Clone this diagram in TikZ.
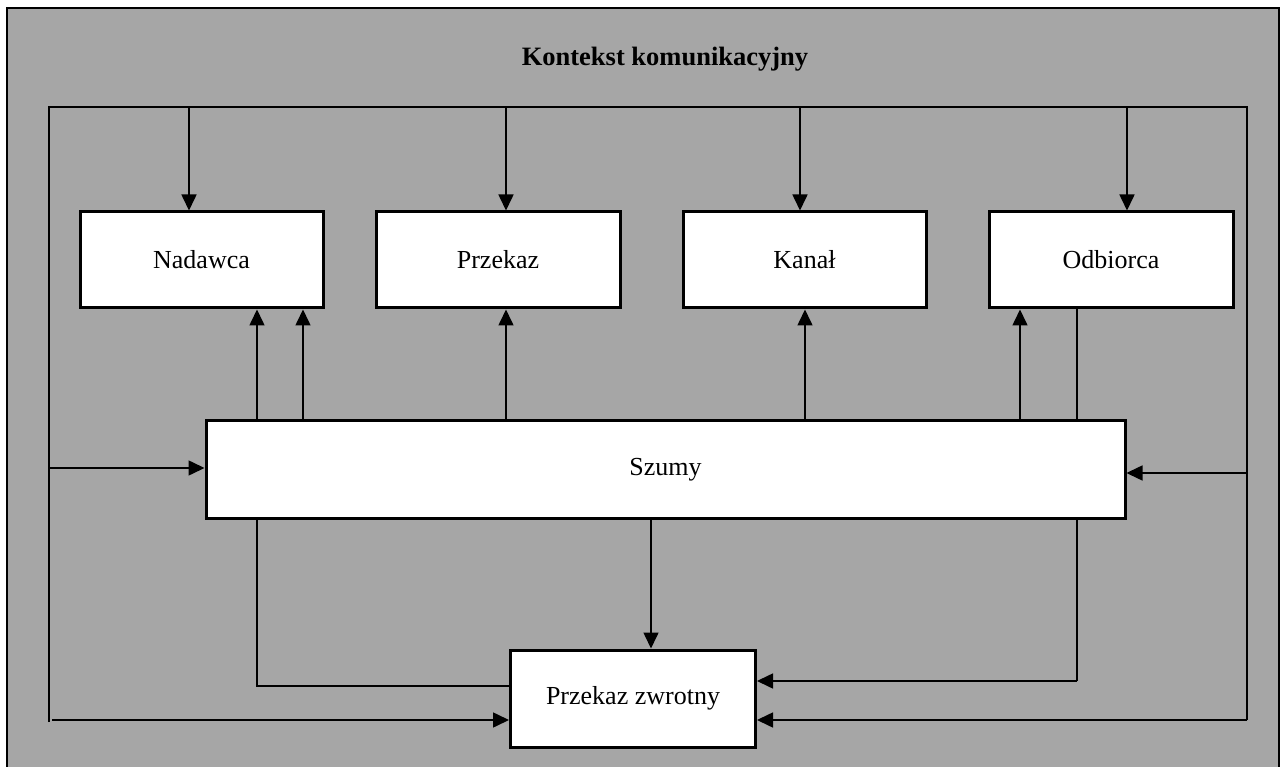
\documentclass[tikz,border=0pt]{standalone}
\usepackage{fontspec}
\setmainfont{Liberation Serif}
\usepackage{tikz}
\usetikzlibrary{arrows.meta}
\usepackage{xcolor}
\definecolor{ctxgray}{RGB}{166,166,166}

\begin{document}
\begin{tikzpicture}[x=1pt,y=1pt,yscale=-1,xscale=1,
  blok/.style={draw,line width=3pt,fill=white,inner sep=0pt,font=\fontsize{26}{30}\selectfont},
  wire/.style={line width=1.6pt},
  arr/.style={wire,-{Triangle[length=16pt,width=15pt]}}]
\useasboundingbox (0,0) rectangle (1286,767);

%Shape: Rectangle [outer frame]
\draw [fill=ctxgray,line width=2pt] (7,8) rectangle (1279,780);

% Text Node
\draw (665,59) node [font=\fontsize{26.5}{30}\selectfont\bfseries] (tytul) {Kontekst komunikacyjny};

%Shape: Rectangle [boxes]
\node [blok,minimum width=243,minimum height=96] (nad) at (201.5,260) {Nadawca};
\node [blok,minimum width=244,minimum height=96] (prz) at (498,260) {Przekaz};
\node [blok,minimum width=243,minimum height=96] (kan) at (804.5,260) {Kanał};
\node [blok,minimum width=244,minimum height=96] (odb) at (1111,260) {Odbiorca};
\node [blok,minimum width=919,minimum height=97] (szu) at (665.5,469.5) {Szumy};
\node [blok,minimum width=245,minimum height=97] (zwr) at (633,698.5) {Przekaz zwrotny};

%Coordinates [context frame]
\coordinate (kg) at (49,107);
\coordinate (pg) at (1247,107);
\coordinate (kd) at (49,722);
\coordinate (pd) at (1247,720);
\coordinate (lz) at (257,686);
\coordinate (pz) at (1077,681);

%Straight Lines [context frame]
\draw [wire] (kd) -- (kg) -- (pg) -- (pd);

%Straight Lines [context -> boxes]
\draw [arr] (kg -| 189,0) -- (nad.north -| 189,0);
\draw [arr] (kg -| 506,0) -- (prz.north -| 506,0);
\draw [arr] (kg -| 800,0) -- (kan.north -| 800,0);
\draw [arr] (kg -| 1127,0) -- (odb.north -| 1127,0);

%Straight Lines [szumy -> boxes]
\draw [arr] (szu.north -| 257,0) -- (nad.south -| 257,0);
\draw [arr] (szu.north -| 303,0) -- (nad.south -| 303,0);
\draw [arr] (szu.north -| 506,0) -- (prz.south -| 506,0);
\draw [arr] (szu.north -| 805,0) -- (kan.south -| 805,0);
\draw [arr] (szu.north -| 1020,0) -- (odb.south -| 1020,0);
\draw [wire] (odb.south -| pz) -- (szu.north -| pz);

%Straight Lines [context -> szumy]
\draw [arr] (kg |- 0,468) -- (szu.west |- 0,468);
\draw [arr] (pg |- 0,473) -- (szu.east |- 0,473);

%Straight Lines [to przekaz zwrotny]
\draw [arr] (szu.south -| 651,0) -- (zwr.north -| 651,0);
\draw [wire] (szu.south -| lz) -- (lz) -- (lz -| zwr.west);
\draw [wire] (szu.south -| pz) -- (pz);
\draw [arr] (pz) -- (pz -| zwr.east);
\draw [arr] (52,720) -- (zwr.west |- 0,720);
\draw [arr] (pd) -- (zwr.east |- pd);

\end{tikzpicture}
\end{document}
